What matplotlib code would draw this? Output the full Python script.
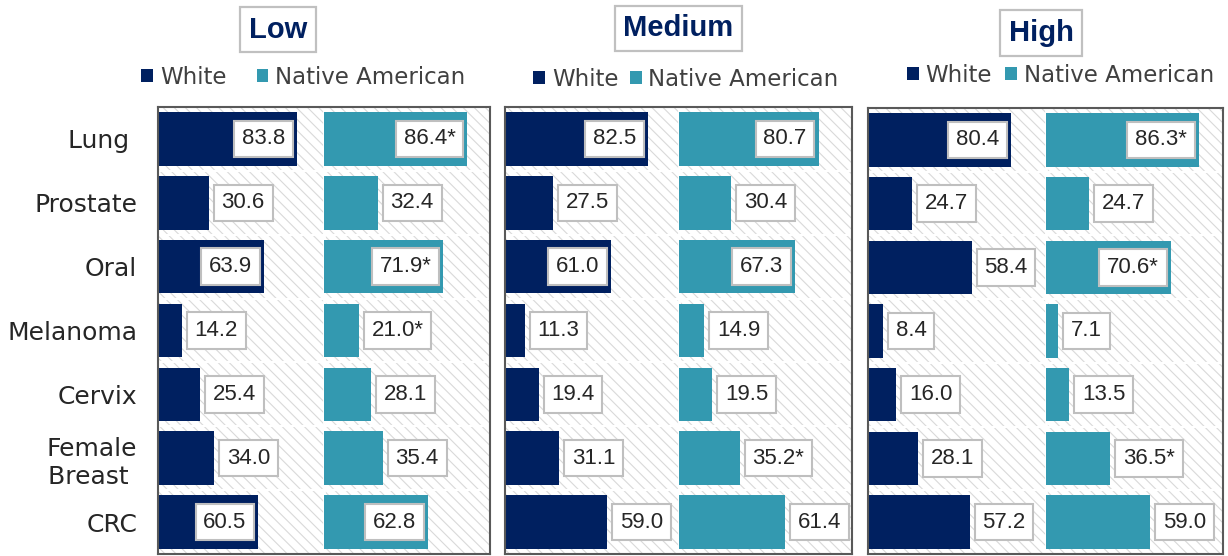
import matplotlib
matplotlib.use('Agg')
import matplotlib.pyplot as plt
from matplotlib.patches import Patch, Rectangle

# cancer types, top to bottom
categories = ['Lung ', 'Prostate', 'Oral', 'Melanoma', 'Cervix', 'Female\nBreast ', 'CRC']
groups = ['Low', 'Medium', 'High']
races = ['White', 'Native American']

low_white = [83.8, 30.6, 63.9, 14.2, 25.4, 34.0, 60.5]
low_native = [86.4, 32.4, 71.9, 21.0, 28.1, 35.4, 62.8]
medium_white = [82.5, 27.5, 61.0, 11.3, 19.4, 31.1, 59.0]
medium_native = [80.7, 30.4, 67.3, 14.9, 19.5, 35.2, 61.4]
high_white = [80.4, 24.7, 58.4, 8.4, 16.0, 28.1, 57.2]
high_native = [86.3, 24.7, 70.6, 7.1, 13.5, 36.5, 59.0]

# significant difference markers (*) on the Native American values
low_native_sig = ['Lung ', 'Oral', 'Melanoma']
medium_native_sig = ['Female\nBreast ']
high_native_sig = ['Lung ', 'Oral', 'Female\nBreast ']

values = {'Low': (low_white, low_native),
          'Medium': (medium_white, medium_native),
          'High': (high_white, high_native)}
sig = {'Low': low_native_sig, 'Medium': medium_native_sig, 'High': high_native_sig}

colors = ['#002060', '#3399b0']
NAVY = '#002060'
TXT = '#262626'

# panel boxes in pixels: left, right, top (bottom is 554)
W, H = 1228, 556
panels = [(158, 490, 107), (505, 852, 107), (868, 1223, 108)]
title_pos = [(278, 29.5), (678.5, 28.5), (1041, 33)]
legend_pos = [(303.5, 77), (686, 79), (1060.5, 75)]
legend_gap = [1.3, 0.48, 0.57]
# labels that Excel put outside although the bar was long enough
outside_labels = [('Medium', 1, 6)]

plt.rcParams['hatch.linewidth'] = 0.8
fig = plt.figure(figsize=(W / 100, H / 100), dpi=100)

for p, g in enumerate(groups):
    left, right, top = panels[p]
    ax = fig.add_axes([left / W, (H - 554) / H, (right - left) / W, (554 - top) / H])
    ax.set_xlim(0, 200)
    ax.set_ylim(6.5, -0.5)
    bg = Rectangle((0, 0), 1, 1, transform=ax.transAxes, facecolor='white',
                   edgecolor='#d9d9d9', hatch='\\\\\\', linewidth=0, zorder=0)
    ax.add_patch(bg)
    ax.patch.set_visible(False)
    for k in range(6):
        ax.axhline(k + 0.5, color='white', lw=1.5, zorder=1)
    ax.axvline(100, color='white', lw=2, zorder=1)

    for r in range(2):
        vals = values[g][r]
        ax.barh(range(len(categories)), vals, left=100 * r, height=0.84,
                color=colors[r], zorder=2)
        for i, v in enumerate(vals):
            txt = '%.1f' % v
            if r == 1 and categories[i] in sig[g]:
                txt += '*'
            inside = v >= 60 and (g, r, i) not in outside_labels
            if inside:
                off, ha = -8.5, 'right'
            else:
                off, ha = 9.2, 'left'
            ax.annotate(txt, xy=(100 * r + v, i), xytext=(off, 0),
                        textcoords='offset points', ha=ha, va='center',
                        fontsize=16, family=['Liberation Sans', 'DejaVu Sans'],
                        color=TXT, zorder=4,
                        bbox=dict(boxstyle='square,pad=0.35', fc='white',
                                  ec='#bfbfbf', lw=1.5))

    ax.set_xticks([])
    if p == 0:
        ax.set_yticks(range(len(categories)))
        ax.set_yticklabels(categories, fontsize=18, color=TXT,
                           multialignment='center')
        ax.tick_params(axis='y', length=0, pad=15)
    else:
        ax.set_yticks([])
    for s in ax.spines.values():
        s.set_color('#595959')
        s.set_linewidth(1.5)

    tx, ty = title_pos[p]
    fig.text(tx / W, 1 - ty / H, g, ha='center', va='center', fontsize=21,
             fontweight='bold', family=['Liberation Sans', 'DejaVu Sans'], color=NAVY,
             bbox=dict(boxstyle='square,pad=0.3', fc='white', ec='#c0c0c0', lw=1.6))

    lx, ly = legend_pos[p]
    handles = [Patch(facecolor=colors[r], label=races[r]) for r in range(2)]
    fig.legend(handles=handles, loc='center', bbox_to_anchor=(lx / W, 1 - ly / H),
               ncol=2, frameon=False, fontsize=16.5, labelcolor='#404040',
               handlelength=0.52, handleheight=0.52, handletextpad=0.3,
               columnspacing=legend_gap[p], borderpad=0, borderaxespad=0)

fig.savefig('out.png', dpi=100)
